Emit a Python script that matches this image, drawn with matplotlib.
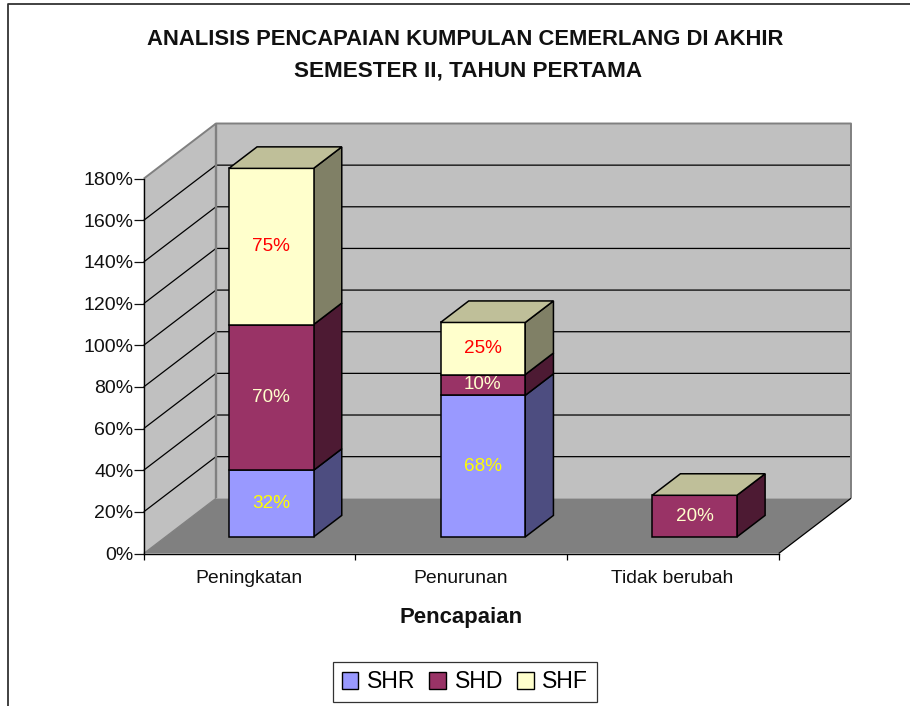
import matplotlib
matplotlib.use("Agg")
import matplotlib.pyplot as plt
from matplotlib.lines import Line2D
from matplotlib.patches import Polygon, Patch
from matplotlib.ticker import FuncFormatter

plt.rcParams['font.family'] = ['Liberation Sans', 'DejaVu Sans']

categories = ["Peningkatan", "Penurunan", "Tidak berubah"]
series_names = ["SHR", "SHD", "SHF"]
shr = [32, 68, 0]
shd = [70, 10, 20]
shf = [75, 25, 0]
y_ticks = [0, 20, 40, 60, 80, 100, 120, 140, 160, 180]
title = "ANALISIS PENCAPAIAN KUMPULAN CEMERLANG DI AKHIR\nSEMESTER II, TAHUN PERTAMA"
x_title = "Pencapaian"

W, H = 910, 706
L, R, B, T = 143.7, 778.7, 553.5, 178.7
DX, DY = 72.3, 55.2          # full depth of the 3D box, px
BAR_W_PX = 84.7
BAR_D0, BAR_D1 = 0.30, 0.69  # bar position within the depth

faces = {"SHR": "#9999FF", "SHD": "#993366", "SHF": "#FFFFCC"}
sides = {"SHR": "#4D4D80", "SHD": "#4D1A33", "SHF": "#808066"}
top_col = "#BFBF99"
lab_col = {"SHR": "#FFFF00", "SHD": "#FFFFCC", "SHF": "#FF0000"}

fig = plt.figure(figsize=(W / 100, H / 100), dpi=100, facecolor="white")
ax = fig.add_axes([L / W, 1 - B / H, (R - L) / W, (B - T) / H])
ax.set_xlim(0, 3)
ax.set_ylim(0, 180)
ax.patch.set_visible(False)

ux = 3 / (R - L)       # data units per px
uy = 180 / (B - T)


def pr(x, y, d=0.0):
    """Category/percent value plus depth fraction -> data coordinates."""
    return (x + d * DX * ux, y + d * DY * uy)


def poly(pts, fc, ec="none", lw=0, z=1):
    ax.add_patch(Polygon(pts, closed=True, facecolor=fc, edgecolor=ec,
                         linewidth=lw, zorder=z, clip_on=False, joinstyle="miter"))


def line(pts, color="black", lw=0.9, z=2):
    xs, ys = zip(*pts)
    ax.plot(xs, ys, color=color, lw=lw, zorder=z, clip_on=False, solid_capstyle="butt")


ymax = y_ticks[-1]
# walls and floor
poly([pr(0, 0, 1), pr(3, 0, 1), pr(3, ymax, 1), pr(0, ymax, 1)], "#C0C0C0", z=1)
poly([pr(0, 0), pr(0, 0, 1), pr(0, ymax, 1), pr(0, ymax)], "#C0C0C0", z=1)
poly([pr(0, 0), pr(3, 0), pr(3, 0, 1), pr(0, 0, 1)], "#808080", z=1.5)

# gridlines
for v in y_ticks[1:-1]:
    line([pr(0, v), pr(0, v, 1), pr(3, v, 1)], z=2)

# wall outlines
line([pr(0, ymax), pr(0, ymax, 1), pr(3, ymax, 1), pr(3, 0, 1)], "#808080", 1.4, 2.2)
line([pr(0, 0, 1), pr(0, ymax, 1)], "#808080", 1.7, 2.2)
line([pr(0, 0), pr(0, 0, 1)], "#808080", 0.9, 2.2)
line([pr(3, 0), pr(3, 0, 1)], "black", 0.9, 2.2)

# stacked bars
for i, cat in enumerate(categories):
    half = BAR_W_PX * ux / 2
    x0, x1 = i + 0.5 - half, i + 0.5 + half
    base = 0
    for name, vals in zip(series_names, [shr, shd, shf]):
        v = vals[i]
        if v == 0:
            continue
        top = base + v
        z = 3 + i
        poly([pr(x1, base, BAR_D0), pr(x1, base, BAR_D1), pr(x1, top, BAR_D1), pr(x1, top, BAR_D0)],
             sides[name], "black", 1.1, z)
        poly([pr(x0, base, BAR_D0), pr(x1, base, BAR_D0), pr(x1, top, BAR_D0), pr(x0, top, BAR_D0)],
             faces[name], "black", 1.1, z + 0.1)
        cx, cy = pr(i + 0.5, base + v / 2, BAR_D0)
        ax.text(cx, cy, f"{v}%", color=lab_col[name], fontsize=13.6, ha="center", va="center",
                zorder=z + 0.3)
        base = top
    poly([pr(x0, base, BAR_D0), pr(x1, base, BAR_D0), pr(x1, base, BAR_D1), pr(x0, base, BAR_D1)],
         top_col, "black", 1.1, 3 + i + 0.2)

# axes
for s in ["top", "right"]:
    ax.spines[s].set_visible(False)
for s in ["left", "bottom"]:
    ax.spines[s].set_linewidth(1.0)
    ax.spines[s].set_zorder(2.5)
ax.set_yticks(y_ticks)
ax.yaxis.set_major_formatter(FuncFormatter(lambda v, _: f"{v:.0f}%"))
ax.set_xticks(range(len(categories) + 1))
ax.set_xticklabels([])
ax.tick_params(axis="y", length=7, width=0.9, labelsize=14, pad=0.3, colors="#111111")
ax.tick_params(axis="x", length=4.5, width=0.9)
for i, cat in enumerate(categories):
    ax.annotate(cat, xy=(i + 0.5, 0), xycoords="data", xytext=(-0.7, -21), textcoords="offset points",
                ha="center", va="baseline", fontsize=13.9, color="#111111", annotation_clip=False)

line1, line2 = title.split("\n")
fig.text(465 / W, 1 - 39.5 / H, line1, fontsize=15.8, fontweight="bold",
         ha="center", va="center", color="#111111")
fig.text(468 / W, 1 - 71.5 / H, line2, fontsize=16.2, fontweight="bold",
         ha="center", va="center", color="#111111")
fig.text(461.5 / W, 1 - 617 / H, x_title, fontsize=15.9, fontweight="bold",
         ha="center", va="center", color="#111111")

# chart-area border (left and top only visible)
fig.add_artist(Line2D([8 / W, 8 / W, 1], [0, 1 - 4 / H, 1 - 4 / H], color="#333333", lw=1.3,
                      transform=fig.transFigure))

handles = [Patch(facecolor=faces[n], edgecolor="black", linewidth=1.0, label=n) for n in series_names]
leg = fig.legend(handles=handles, ncol=3, loc="center", bbox_to_anchor=(465 / W, 1 - 682 / H),
                 fontsize=16.6, frameon=True, fancybox=False, edgecolor="#333333",
                 framealpha=1, handlelength=0.72, handleheight=0.72, handletextpad=0.38,
                 columnspacing=0.6, borderpad=0.36, borderaxespad=0)
leg.get_frame().set_linewidth(0.9)

fig.savefig("out.png", dpi=100)
